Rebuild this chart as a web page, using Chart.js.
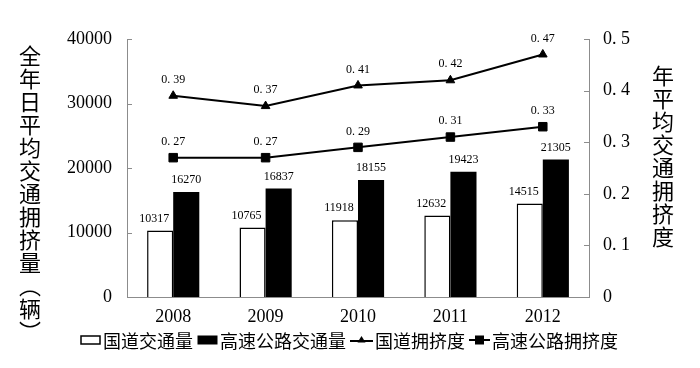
<!DOCTYPE html>
<html>
<head>
<meta charset="utf-8">
<script src="https://cdn.jsdelivr.net/npm/chart.js@4/dist/chart.umd.min.js"></script>
<style>
  body { margin: 0; background: #fff; }
  #wrap { position: relative; width: 700px; height: 368px; }
  .ytitle { position: absolute; writing-mode: vertical-rl; font-family: "Noto Sans CJK SC"; font-size: 22px; letter-spacing: 1px; line-height: 1; color: #000; }
  #legend { position: absolute; left: 80px; top: 329px; height: 22px; display: flex; align-items: center; font-family: "Noto Sans CJK SC"; font-size: 18px; line-height: 1; color: #000; white-space: nowrap; }
  #legend .item { display: flex; align-items: center; margin-right: 4px; }
  #legend svg { margin-right: 2px; }
</style>
</head>
<body>
<div id="wrap">
  <canvas id="c" width="700" height="368"></canvas>
  <div class="ytitle" style="left:19px; top:45px;">全年日平均交通拥挤量（辆）</div>
  <div class="ytitle" style="left:652px; top:65px;">年平均交通拥挤度</div>
  <div id="legend"></div>
</div>
<script>
// data
const YEARS = ['2008','2009','2010','2011','2012'];
const NATIONAL_FLOW = [10317, 10765, 11918, 12632, 14515];
const HIGHWAY_FLOW = [16270, 16837, 18155, 19423, 21305];
const NATIONAL_CONG = [0.39, 0.37, 0.41, 0.42, 0.47];
const HIGHWAY_CONG = [0.27, 0.27, 0.29, 0.31, 0.33];
const LABELS = ['国道交通量','高速公路交通量','国道拥挤度','高速公路拥挤度'];

const AXIS_GRAY = '#8c8c8c';
const NUM_FONT = 'Liberation Serif';

// the source font draws "0.39" with a wide period, so spell it that way
const fmtRatio = v => v === 0 ? '0' : String(v).replace('.', '. ');

// value labels above bars and points
const valueLabels = {
  id: 'valueLabels',
  afterDatasetsDraw(chart){
    const ctx = chart.ctx;
    ctx.save();
    ctx.fillStyle = '#000';
    ctx.font = '12px "' + NUM_FONT + '"';
    ctx.textAlign = 'center';
    ctx.textBaseline = 'middle';
    chart.data.datasets.forEach((ds, i)=>{
      const meta = chart.getDatasetMeta(i);
      meta.data.forEach((elm, j)=>{
        const v = ds.data[j];
        if(ds.type === 'bar'){
          const dx = i === 0 ? -6 : 0;
          ctx.fillText(String(v), elm.x + dx, elm.y - 12);
        }else{
          ctx.fillText(fmtRatio(v), elm.x, elm.y - 16);
        }
      });
    });
    ctx.restore();
  }
};

// short tick marks pointing into the plot, like the original
const innerTicks = {
  id: 'innerTicks',
  afterDraw(chart){
    const ctx = chart.ctx;
    ctx.save();
    ctx.strokeStyle = AXIS_GRAY;
    ctx.lineWidth = 1;
    ['y','y1'].forEach(id=>{
      const s = chart.scales[id];
      const x0 = id === 'y' ? chart.chartArea.left : chart.chartArea.right;
      const dir = id === 'y' ? 1 : -1;
      s.ticks.forEach(t=>{
        const y = Math.round(s.getPixelForValue(t.value)) + 0.5;
        ctx.beginPath();
        ctx.moveTo(x0, y);
        ctx.lineTo(x0 + dir*5, y);
        ctx.stroke();
      });
    });
    ctx.restore();
  }
};

const chart = new Chart(document.getElementById('c').getContext('2d'), {
  data: {
    labels: YEARS,
    datasets: [
      { type:'bar', label:LABELS[0], data:NATIONAL_FLOW, backgroundColor:'#fff', borderColor:'#000', borderWidth:1.5, yAxisID:'y', order:2 },
      { type:'bar', label:LABELS[1], data:HIGHWAY_FLOW, backgroundColor:'#000', borderColor:'#000', borderWidth:0, yAxisID:'y', order:2 },
      { type:'line', label:LABELS[2], data:NATIONAL_CONG, borderColor:'#000', backgroundColor:'#000', borderWidth:2, pointStyle:'triangle', pointRadius:5, pointBorderWidth:1, yAxisID:'y1', order:1 },
      { type:'line', label:LABELS[3], data:HIGHWAY_CONG, borderColor:'#000', backgroundColor:'#000', borderWidth:2, pointStyle:'rect', pointRadius:6, pointBorderWidth:1, yAxisID:'y1', order:1 }
    ]
  },
  options: {
    responsive:false,
    animation:false,
    layout:{ padding:{ top:39, left:0, right:0, bottom:41 } },
    datasets:{ bar:{ categoryPercentage:0.565, barPercentage:1 } },
    plugins:{ legend:{ display:false }, tooltip:{ enabled:false } },
    scales:{
      x:{
        grid:{ display:false, drawTicks:false },
        border:{ display:true, color:AXIS_GRAY, width:1 },
        ticks:{ color:'#000', font:{ family:NUM_FONT, size:18 }, padding:9 },
        afterFit(s){ s.height = 30; }
      },
      y:{
        position:'left', min:0, max:40000,
        grid:{ display:false, drawTicks:false },
        border:{ display:true, color:AXIS_GRAY, width:1 },
        ticks:{ stepSize:10000, color:'#000', font:{ family:NUM_FONT, size:18 }, padding:15,
          callback:v=>String(v) },
        afterFit(s){ s.width = 127; }
      },
      y1:{
        position:'right', min:0, max:0.5,
        grid:{ display:false, drawTicks:false },
        border:{ display:true, color:AXIS_GRAY, width:1 },
        ticks:{ stepSize:0.1, color:'#000', font:{ family:NUM_FONT, size:18 }, padding:14,
          callback:v=>fmtRatio(Math.round(v*10)/10) },
        afterFit(s){ s.width = 111; }
      }
    }
  },
  plugins:[valueLabels, innerTicks]
});

// legend in html, markers as small svgs
const markers = [
  '<svg width="21" height="12"><rect x="1" y="2" width="19" height="8" fill="#fff" stroke="#000" stroke-width="1.5"/></svg>',
  '<svg width="21" height="12"><rect x="0.5" y="1.5" width="20" height="9" fill="#000"/></svg>',
  '<svg width="23" height="12"><line x1="0" y1="7" x2="23" y2="7" stroke="#000" stroke-width="2"/><polygon points="11.5,2 15.5,8.5 7.5,8.5" fill="#000"/></svg>',
  '<svg width="21" height="12"><line x1="0" y1="6" x2="21" y2="6" stroke="#000" stroke-width="2"/><rect x="6" y="1.5" width="9" height="9" fill="#000"/></svg>'
];
document.getElementById('legend').innerHTML = LABELS.map((l,i)=>
  '<span class="item">' + markers[i] + '<span>' + l + '</span></span>').join('');
</script>
</body>
</html>
